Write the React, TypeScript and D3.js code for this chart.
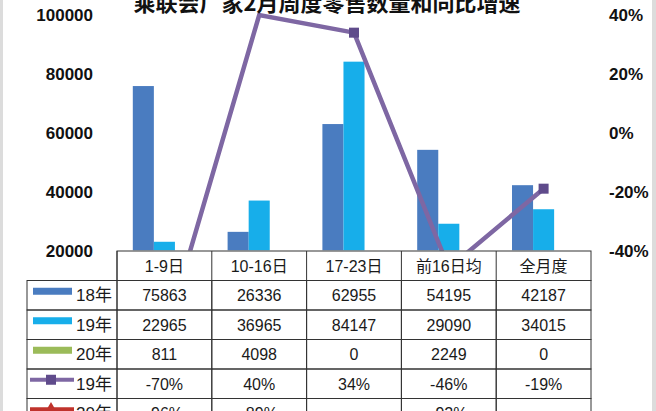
import React from 'react'
import * as d3 from 'd3'

// chart data
const categories = ['1-9日', '10-16日', '17-23日', '前16日均', '全月度']
const sales18 = [75863, 26336, 62955, 54195, 42187]
const sales19 = [22965, 36965, 84147, 29090, 34015]
const sales20 = [811, 4098, 0, 2249, 0]
const growth19 = [-70, 40, 34, -46, -19]
const growth20: (number | null)[] = [-96, -89, null, -92, null]
const leftTicks = [20000, 40000, 60000, 80000, 100000]
const rightTicks = [-40, -20, 0, 20, 40]
const title = '乘联会厂家2月周度零售数量和同比增速'

const W = 656
const H = 411
const plot = { left: 117, right: 591, top: 15, bottom: 250.5 }
const rowH = 29.5
const headerTop = 251
const legendLeft = 27

const colors = {
  s18: '#4a7cc0',
  s19: '#17aeea',
  s20: '#9bbb59',
  g19: '#7e67a3',
  g19m: '#5f4b8b',
  g20: '#c0332c',
}

const font = '"Liberation Sans", "Noto Sans CJK SC", sans-serif'

const App: React.FC = () => {
  const x = d3.scaleBand<string>().domain(categories).range([plot.left, plot.right]).padding(0)
  const series = ['18', '19', '20']
  const xs = d3.scaleBand<string>().domain(series).range([0, x.bandwidth()]).paddingInner(0).paddingOuter(0.75)
  const y = d3.scaleLinear().domain([20000, 100000]).range([plot.bottom, plot.top])
  const y2 = d3.scaleLinear().domain([-40, 40]).range([plot.bottom, plot.top])

  const barSets = [
    { key: '18', values: sales18, color: colors.s18 },
    { key: '19', values: sales19, color: colors.s19 },
    { key: '20', values: sales20, color: colors.s20 },
  ]

  const cx = (c: string) => (x(c) ?? 0) + x.bandwidth() / 2
  const line = d3
    .line<number | null>()
    .defined((d) => d != null)
    .x((_, i) => cx(categories[i]))
    .y((d) => y2(d as number))

  // table rows below the plot
  const fmtPct = (v: number | null) => (v == null ? '' : `${v}%`)
  const rows = [
    { label: '18年', kind: 'bar', color: colors.s18, cells: sales18.map(String) },
    { label: '19年', kind: 'bar', color: colors.s19, cells: sales19.map(String) },
    { label: '20年', kind: 'bar', color: colors.s20, cells: sales20.map(String) },
    { label: '19年', kind: 'square', color: colors.g19, cells: growth19.map(fmtPct) },
    { label: '20年', kind: 'diamond', color: colors.g20, cells: growth20.map(fmtPct) },
  ]
  const rowTop = (i: number) => headerTop + rowH * (i + 1)

  return (
    <svg width={W} height={H} style={{ position: 'absolute', left: 0, top: 0, background: '#fff' }}>
      <defs>
        <clipPath id="plotClip">
          <rect x={plot.left} y={12} width={plot.right - plot.left} height={plot.bottom - 12} />
        </clipPath>
      </defs>

      {/* grey frame edges */}
      <rect x={0} y={0} width={3} height={H} fill="#dcdcdc" />
      <rect x={652} y={0} width={4} height={H} fill="#dcdcdc" />

      {/* bars */}
      <g clipPath="url(#plotClip)">
        {barSets.map((s) =>
          s.values.map((v, i) => {
            const top = y(Math.max(v, 20000))
            return (
              <rect
                key={s.key + i}
                x={(x(categories[i]) ?? 0) + (xs(s.key) ?? 0)}
                y={top}
                width={xs.bandwidth()}
                height={plot.bottom - top}
                fill={s.color}
              />
            )
          })
        )}
        <path d={line(growth20) ?? ''} fill="none" stroke={colors.g20} strokeWidth={4} />
        <path d={line(growth19) ?? ''} fill="none" stroke={colors.g19} strokeWidth={4.5} strokeLinejoin="miter" />
        {growth19.map((v, i) =>
          v > -40 && v < 40 ? (
            <rect key={i} x={cx(categories[i]) - 5} y={y2(v) - 5} width={10} height={10} fill={colors.g19m} />
          ) : null
        )}
      </g>

      {/* left axis labels */}
      {leftTicks.map((t) => (
        <text key={t} x={93} y={y(t)} dy="0.36em" textAnchor="end" fontFamily={font} fontWeight="bold" fontSize={17} fill="#111">
          {t}
        </text>
      ))}
      {/* right axis labels */}
      {rightTicks.map((t) => (
        <text key={t} x={609} y={y2(t)} dy="0.36em" textAnchor="start" fontFamily={font} fontWeight="bold" fontSize={17} fill="#111">
          {`${t}%`}
        </text>
      ))}

      {/* data table */}
      <g stroke="#333" strokeWidth={1} fill="none">
        <rect x={plot.left} y={headerTop} width={plot.right - plot.left} height={rowH} />
        {rows.map((r, i) => (
          <g key={i}>
            <rect x={legendLeft} y={rowTop(i)} width={plot.left - legendLeft} height={rowH} />
            {categories.map((c) => (
              <rect key={c} x={x(c)} y={rowTop(i)} width={x.bandwidth()} height={rowH} />
            ))}
          </g>
        ))}
        {categories.map((c) => (
          <line key={c} x1={x(c)} x2={x(c)} y1={headerTop} y2={headerTop + rowH} />
        ))}
      </g>
      {categories.map((c) => (
        <text key={c} x={cx(c)} y={headerTop + rowH / 2} dy="0.36em" textAnchor="middle" fontFamily={font} fontSize={16} fill="#1a1a1a">
          {c}
        </text>
      ))}
      {rows.map((r, i) => {
        const my = rowTop(i) + rowH / 2
        const ky = my - 4
        return (
          <g key={i}>
            {r.kind === 'bar' ? (
              <rect x={33} y={ky - 3.5} width={39} height={7} fill={r.color} />
            ) : (
              <g>
                <line x1={30} x2={74} y1={ky} y2={ky} stroke={r.color} strokeWidth={4} />
                {r.kind === 'square' ? (
                  <rect x={46} y={ky - 5} width={10} height={10} fill={colors.g19m} />
                ) : (
                  <path d={d3.symbol(d3.symbolDiamond, 60)() ?? ''} transform={`translate(51,${ky})`} fill={r.color} />
                )}
              </g>
            )}
            <text x={76} y={my} dy="0.36em" fontFamily={font} fontSize={17} fill="#1a1a1a">
              {r.label}
            </text>
            {r.cells.map((v, j) => (
              <text key={j} x={cx(categories[j])} y={my} dy="0.36em" textAnchor="middle" fontFamily={font} fontSize={16} fill="#1a1a1a">
                {v}
              </text>
            ))}
          </g>
        )
      })}

      {/* title, top cut off as in the source */}
      <text x={327} y={11} textAnchor="middle" fontFamily='"Noto Sans CJK SC", sans-serif' fontWeight="bold" fontSize={22} fill="#111">
        {title}
      </text>
    </svg>
  )
}

export default App
